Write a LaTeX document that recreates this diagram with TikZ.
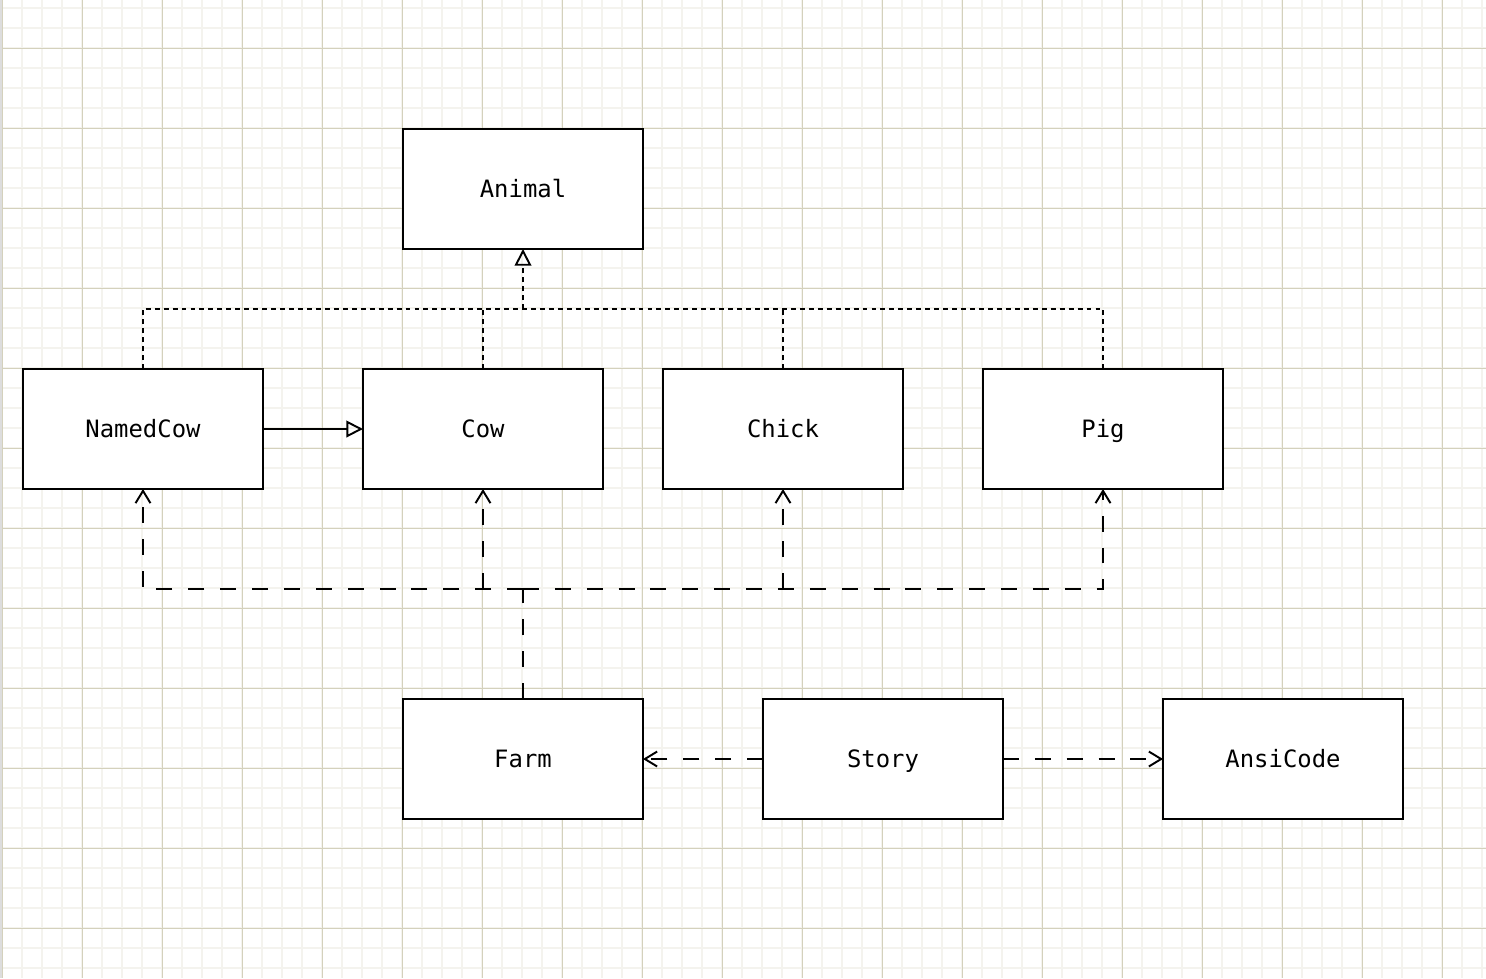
\documentclass[tikz,border=0pt]{standalone}
\usepackage{fontspec}
\setmonofont{DejaVu Sans Mono}
\usetikzlibrary{arrows.meta}
\definecolor{gridminor}{HTML}{F4F3EE}
\definecolor{gridmajor}{HTML}{D4D1BC}
\definecolor{edgebar}{HTML}{DDDDDD}
\tikzset{
  cls/.style={draw=black, line width=1.1pt, fill=white, minimum width=4.8cm, minimum height=2.4cm, inner sep=0pt, outer sep=0pt, text height=9.9pt, text depth=0pt, font=\ttfamily\fontsize{13.6}{16}\selectfont},
  gminor/.style={draw=gridminor, line width=1pt},
  gmajor/.style={draw=gridmajor, line width=0.5pt},
  inhline/.style={line width=1.1pt, dash pattern=on 2.8pt off 2.3pt},
  depline/.style={line width=1.1pt, dash pattern=on 9.07pt off 9.07pt},
  solidline/.style={line width=1.1pt},
  hollowtri/.style={-{Triangle[open, length=9.5pt, width=9.5pt, line width=1.1pt]}},
  openv/.style={-{Straight Barb[length=7pt, width=8.5pt, line width=1.1pt]}},
}
\begin{document}
\begin{tikzpicture}[x=0.02cm, y=-0.02cm]
\useasboundingbox (0,0) rectangle (1486,978);
\fill[white] (0,0) rectangle (1486,978);
\foreach \x in {2,22,...,1482} \draw[gminor] (\x,0) -- (\x,978);
\foreach \y in {8,28,...,968} \draw[gminor] (0,\y) -- (1486,\y);
\foreach \x in {2,82,...,1442} \draw[gmajor] (\x,0) -- (\x,978);
\foreach \y in {48,128,...,928} \draw[gmajor] (0,\y) -- (1486,\y);
\fill[edgebar] (0,0) rectangle (2,978);

\node[cls] (animal) at (523,189) {Animal};
\node[cls] (namedcow) at (143,429) {NamedCow};
\node[cls] (cow) at (483,429) {Cow};
\node[cls] (chick) at (783,429) {Chick};
\node[cls] (pig) at (1103,429) {Pig};
\node[cls] (farm) at (523,759) {Farm};
\node[cls] (story) at (883,759) {Story};
\node[cls] (ansi) at (1283,759) {AnsiCode};

\coordinate (j1) at (523,309);
\coordinate (j2) at (523,589);

% inheritance
\draw[inhline] (namedcow.north) |- (pig.north |- j1) -- (pig.north);
\draw[inhline] (cow.north) -- (cow.north |- j1);
\draw[inhline] (chick.north) -- (chick.north |- j1);
\draw[inhline, hollowtri] (j1) -- (animal.south);
\draw[solidline, hollowtri] (namedcow.east) -- (cow.west);

% dependencies
\draw[depline] (farm.north) -- (j2);
\draw[depline, openv] (j2) -| (namedcow.south);
\draw[depline, openv] (j2) -| (pig.south);
\draw[depline, openv] (cow.south |- j2) -- (cow.south);
\draw[depline, openv] (chick.south |- j2) -- (chick.south);
\draw[depline, openv] (story.west) -- (farm.east);
\draw[depline, openv] (story.east) -- (ansi.west);
\end{tikzpicture}
\end{document}
